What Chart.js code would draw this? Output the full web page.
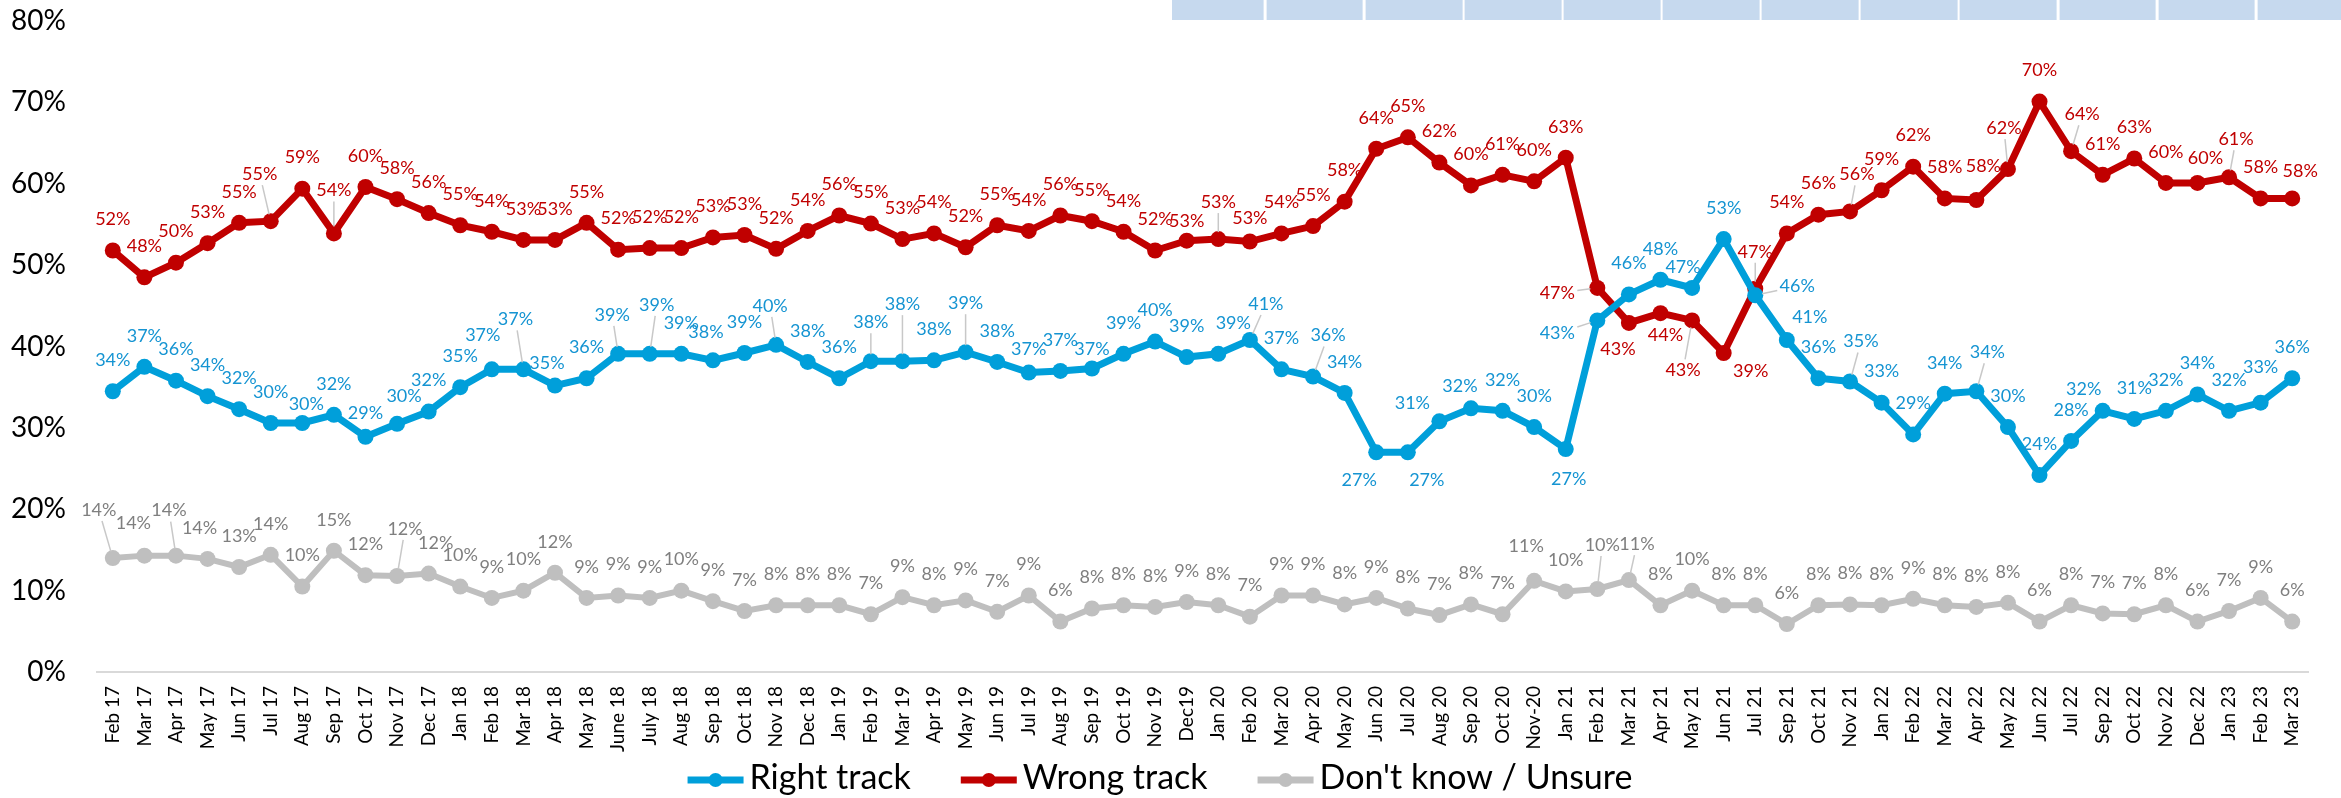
<!DOCTYPE html>
<html>
<head>
<meta charset="utf-8">
<script src="https://cdn.jsdelivr.net/npm/chart.js@4.4.1/dist/chart.umd.min.js"></script>
<style>
  html, body { margin: 0; padding: 0; background: #fff; overflow: hidden; }
  #wrap { position: relative; width: 2341px; height: 798px; }
  #strip {
    position: absolute; left: 1172px; top: 0; width: 1169px; height: 20px;
    background: repeating-linear-gradient(to right, #c6d9ee 0 96.4px, #fff 96.4px 99.06px);
    background-position-x: -4.4px;
  }
</style>
</head>
<body>
<div id="wrap">
  <canvas id="trackChart" width="2341" height="798"></canvas>
  <div id="strip"></div>
</div>
<script>
const months = [
  'Feb 17', 'Mar 17', 'Apr 17', 'May 17', 'Jun 17', 'Jul 17', 'Aug 17', 'Sep 17', 'Oct 17', 'Nov 17',
  'Dec 17', 'Jan 18', 'Feb 18', 'Mar 18', 'Apr 18', 'May 18', 'June 18', 'July 18', 'Aug 18', 'Sep 18',
  'Oct 18', 'Nov 18', 'Dec 18', 'Jan 19', 'Feb 19', 'Mar 19', 'Apr 19', 'May 19', 'Jun 19', 'Jul 19',
  'Aug 19', 'Sep 19', 'Oct 19', 'Nov 19', 'Dec19', 'Jan 20', 'Feb 20', 'Mar 20', 'Apr 20', 'May 20',
  'Jun 20', 'Jul 20', 'Aug 20', 'Sep 20', 'Oct 20', 'Nov-20', 'Jan 21', 'Feb 21', 'Mar 21', 'Apr 21',
  'May 21', 'Jun 21', 'Jul 21', 'Sep 21', 'Oct 21', 'Nov 21', 'Jan 22', 'Feb 22', 'Mar 22', 'Apr 22',
  'May 22', 'Jun 22', 'Jul 22', 'Sep 22', 'Oct 22', 'Nov 22', 'Dec 22', 'Jan 23', 'Feb 23', 'Mar 23'
];

// values (position of each marker)
const rightTrack = [
  34.5, 37.5, 35.8, 33.9, 32.3, 30.6, 30.6, 31.6, 28.9, 30.5,
  32.0, 35.0, 37.2, 37.2, 35.2, 36.1, 39.1, 39.1, 39.1, 38.3,
  39.2, 40.2, 38.1, 36.1, 38.2, 38.2, 38.3, 39.3, 38.1, 36.8,
  37.0, 37.3, 39.1, 40.6, 38.7, 39.1, 40.8, 37.2, 36.3, 34.3,
  27.0, 27.0, 30.8, 32.4, 32.1, 30.1, 27.4, 43.2, 46.4, 48.2,
  47.2, 53.2, 46.3, 40.8, 36.1, 35.7, 33.1, 29.2, 34.2, 34.5,
  30.1, 24.2, 28.4, 32.1, 31.1, 32.1, 34.1, 32.1, 33.1, 36.1
];
const wrongTrack = [
  51.8, 48.5, 50.3, 52.7, 55.2, 55.4, 59.4, 53.9, 59.6, 58.1,
  56.4, 54.9, 54.1, 53.1, 53.1, 55.2, 51.9, 52.1, 52.1, 53.4,
  53.7, 52.0, 54.2, 56.1, 55.1, 53.2, 53.9, 52.2, 54.9, 54.2,
  56.1, 55.4, 54.1, 51.8, 53.0, 53.2, 52.9, 53.9, 54.8, 57.8,
  64.3, 65.7, 62.6, 59.8, 61.1, 60.3, 63.2, 47.2, 42.9, 44.1,
  43.2, 39.2, 47.1, 53.9, 56.2, 56.6, 59.2, 62.1, 58.2, 58.0,
  61.8, 70.1, 64.0, 61.1, 63.1, 60.1, 60.1, 60.8, 58.2, 58.2
];
const unsure = [
  14.0, 14.3, 14.3, 13.9, 12.9, 14.4, 10.5, 14.9, 11.9, 11.8,
  12.1, 10.5, 9.1, 10.0, 12.2, 9.1, 9.4, 9.1, 10.0, 8.7,
  7.5, 8.2, 8.2, 8.2, 7.1, 9.2, 8.2, 8.8, 7.4, 9.4,
  6.2, 7.8, 8.2, 8.0, 8.6, 8.2, 6.8, 9.4, 9.4, 8.3,
  9.1, 7.8, 7.0, 8.3, 7.1, 11.2, 9.9, 10.2, 11.3, 8.2,
  10.0, 8.2, 8.2, 5.9, 8.2, 8.3, 8.2, 9.0, 8.2, 8.0,
  8.5, 6.2, 8.2, 7.2, 7.1, 8.2, 6.2, 7.5, 9.1, 6.2
];

// printed labels
const rightLabels = [
  34, 37, 36, 34, 32, 30, 30, 32, 29, 30, 32, 35, 37, 37, 35, 36, 39, 39, 39, 38,
  39, 40, 38, 36, 38, 38, 38, 39, 38, 37, 37, 37, 39, 40, 39, 39, 41, 37, 36, 34,
  27, 27, 31, 32, 32, 30, 27, 43, 46, 48, 47, 53, 46, 41, 36, 35, 33, 29, 34, 34,
  30, 24, 28, 32, 31, 32, 34, 32, 33, 36
];
const wrongLabels = [
  52, 48, 50, 53, 55, 55, 59, 54, 60, 58, 56, 55, 54, 53, 53, 55, 52, 52, 52, 53,
  53, 52, 54, 56, 55, 53, 54, 52, 55, 54, 56, 55, 54, 52, 53, 53, 53, 54, 55, 58,
  64, 65, 62, 60, 61, 60, 63, 47, 43, 44, 43, 39, 47, 54, 56, 56, 59, 62, 58, 58,
  62, 70, 64, 61, 63, 60, 60, 61, 58, 58
];
const unsureLabels = [
  14, 14, 14, 14, 13, 14, 10, 15, 12, 12, 12, 10, 9, 10, 12, 9, 9, 9, 10, 9,
  7, 8, 8, 8, 7, 9, 8, 9, 7, 9, 6, 8, 8, 8, 9, 8, 7, 9, 9, 8,
  9, 8, 7, 8, 7, 11, 10, 10, 11, 8, 10, 8, 8, 6, 8, 8, 8, 9, 8, 8,
  8, 6, 8, 7, 7, 8, 6, 7, 9, 6
];

const yTicks = [0, 10, 20, 30, 40, 50, 60, 70, 80];

// where a label sits away from the default spot above its marker: [dx, dy]
const labelNudge = [
  {
    6: [4, -19], 8: [0, -24], 9: [7, -28], 12: [-9, -34], 13: [-8, -50], 14: [-8, -22],
    16: [-6, -39], 17: [7, -49], 19: [-7, -28], 21: [-6, -39], 24: [0, -39], 25: [0, -57],
    27: [0, -49], 29: [0, -23], 31: [0, -19], 35: [15, -31], 36: [16, -36], 38: [15, -41],
    40: [-17, 28], 41: [19, 28], 42: [-27, -18], 43: [-11, -22], 46: [3, 30], 47: [-40, 13],
    50: [-9, -21], 52: [42, -9], 53: [23, -23], 55: [11, -40], 59: [11, -39], 63: [-19, -22],
    68: [0, -35]
  },
  {
    5: [-11, -47], 7: [0, -43], 34: [0, -20], 35: [0, -37], 36: [0, -23], 47: [-40, 5],
    48: [-11, 26], 49: [5, 22], 50: [-9, 50], 51: [27, 18], 52: [0, -37], 55: [7, -37],
    59: [7, -34], 60: [-4, -41], 62: [11, -37], 66: [8, -25], 67: [7, -38], 69: [8, -27]
  },
  {
    0: [-14, -48], 1: [-11, -32], 2: [-7, -45], 3: [-8, -31], 9: [8, -47], 10: [7, -30],
    45: [-8, -35], 47: [5, -44], 48: [8, -36]
  }
];

const labelSets = [rightLabels, wrongLabels, unsureLabels];
const labelColors = ['#1594d2', '#c00000', '#7f7f7f'];
const FONT = 'Lato, "Open Sans", sans-serif';

const pointLabels = {
  id: 'pointLabels',
  afterDatasetsDraw(chart) {
    const ctx = chart.ctx;
    ctx.save();
    ctx.font = `18px ${FONT}`;
    ctx.textAlign = 'center';
    ctx.textBaseline = 'middle';
    chart.data.datasets.forEach((ds, d) => {
      const meta = chart.getDatasetMeta(d);
      meta.data.forEach((pt, i) => {
        const [dx, dy] = labelNudge[d][i] || [0, -31];
        const lx = pt.x + dx;
        const ly = pt.y + dy;
        if (Math.hypot(dx, dy) > 36) {
          // leader line from label edge to marker
          const vx = pt.x - lx, vy = pt.y - ly;
          const len = Math.hypot(vx, vy);
          const t = Math.min(vx ? 20 / Math.abs(vx) : 99, vy ? 11 / Math.abs(vy) : 99);
          ctx.strokeStyle = '#c8c8c8';
          ctx.lineWidth = 1.5;
          ctx.beginPath();
          ctx.moveTo(lx + vx * t, ly + vy * t);
          ctx.lineTo(pt.x - vx / len * 7, pt.y - vy / len * 7);
          ctx.stroke();
        }
        ctx.fillStyle = labelColors[d];
        ctx.fillText(labelSets[d][i] + '%', lx, ly);
      });
    });
    ctx.restore();
  }
};

// month labels, rotated, hung under the axis line at each category
const monthTicks = {
  id: 'monthTicks',
  afterDraw(chart) {
    const ctx = chart.ctx;
    const xs = chart.scales.x;
    ctx.save();
    ctx.font = `19px ${FONT}`;
    ctx.fillStyle = '#000';
    ctx.textAlign = 'right';
    ctx.textBaseline = 'middle';
    chart.data.labels.forEach((lab, i) => {
      ctx.save();
      ctx.translate(xs.getPixelForValue(i), xs.top + 14);
      ctx.rotate(-Math.PI / 2);
      ctx.fillText(lab, 0, 0);
      ctx.restore();
    });
    ctx.restore();
  }
};

const lineLegend = {
  id: 'lineLegend',
  afterDraw(chart) {
    const ctx = chart.ctx;
    ctx.save();
    ctx.font = `34px ${FONT}`;
    const items = chart.data.datasets.map(ds => ({
      text: ds.label, color: ds.borderColor, w: ctx.measureText(ds.label).width
    }));
    const markLen = 56, markGap = 6, itemGap = 50;
    const total = items.reduce((s, it) => s + markLen + markGap + it.w, 0) + itemGap * (items.length - 1);
    let x = 1160 - total / 2;
    const y = 780;
    items.forEach(it => {
      ctx.strokeStyle = it.color;
      ctx.lineWidth = 7;
      ctx.beginPath();
      ctx.moveTo(x, y);
      ctx.lineTo(x + markLen, y);
      ctx.stroke();
      ctx.fillStyle = it.color;
      ctx.beginPath();
      ctx.arc(x + markLen / 2, y, 7, 0, Math.PI * 2);
      ctx.fill();
      ctx.fillStyle = '#000';
      ctx.textBaseline = 'alphabetic';
      ctx.fillText(it.text, x + markLen + markGap, 789);
      x += markLen + markGap + it.w + itemGap;
    });
    ctx.restore();
  }
};

const series = (label, data, color, width) => ({
  label,
  data,
  borderColor: color,
  backgroundColor: color,
  borderWidth: width,
  pointRadius: 8,
  pointBorderWidth: 0,
  pointBackgroundColor: color,
  tension: 0
});

new Chart(document.querySelector('#trackChart'), {
  type: 'line',
  data: {
    labels: months,
    datasets: [
      series('Right track', rightTrack, '#009fda', 7),
      series('Wrong track', wrongTrack, '#c00000', 7),
      series("Don't know / Unsure", unsure, '#bfbfbf', 6)
    ]
  },
  options: {
    responsive: false,
    animation: false,
    devicePixelRatio: 1,
    events: [],
    layout: { padding: { left: 0, right: 33, top: 21, bottom: 126 } },
    plugins: {
      legend: { display: false },
      tooltip: { enabled: false }
    },
    scales: {
      x: {
        offset: true,
        grid: { display: false, drawTicks: false },
        border: { display: true, color: '#d9d9d9', width: 2 },
        ticks: { display: false, autoSkip: false },
        afterFit: s => { s.height = 0; s.paddingLeft = 0; s.paddingRight = 0; }
      },
      y: {
        min: 0,
        max: 80,
        grid: { display: false, drawTicks: false },
        border: { display: false },
        afterBuildTicks: s => { s.ticks = yTicks.map(v => ({ value: v })); },
        ticks: {
          padding: 31,
          color: '#000',
          font: { family: FONT, size: 28 },
          callback: v => v + '%'
        },
        afterFit: s => { s.width = 97; s.paddingTop = 0; s.paddingBottom = 0; }
      }
    }
  },
  plugins: [pointLabels, monthTicks, lineLegend]
});
</script>
</body>
</html>
